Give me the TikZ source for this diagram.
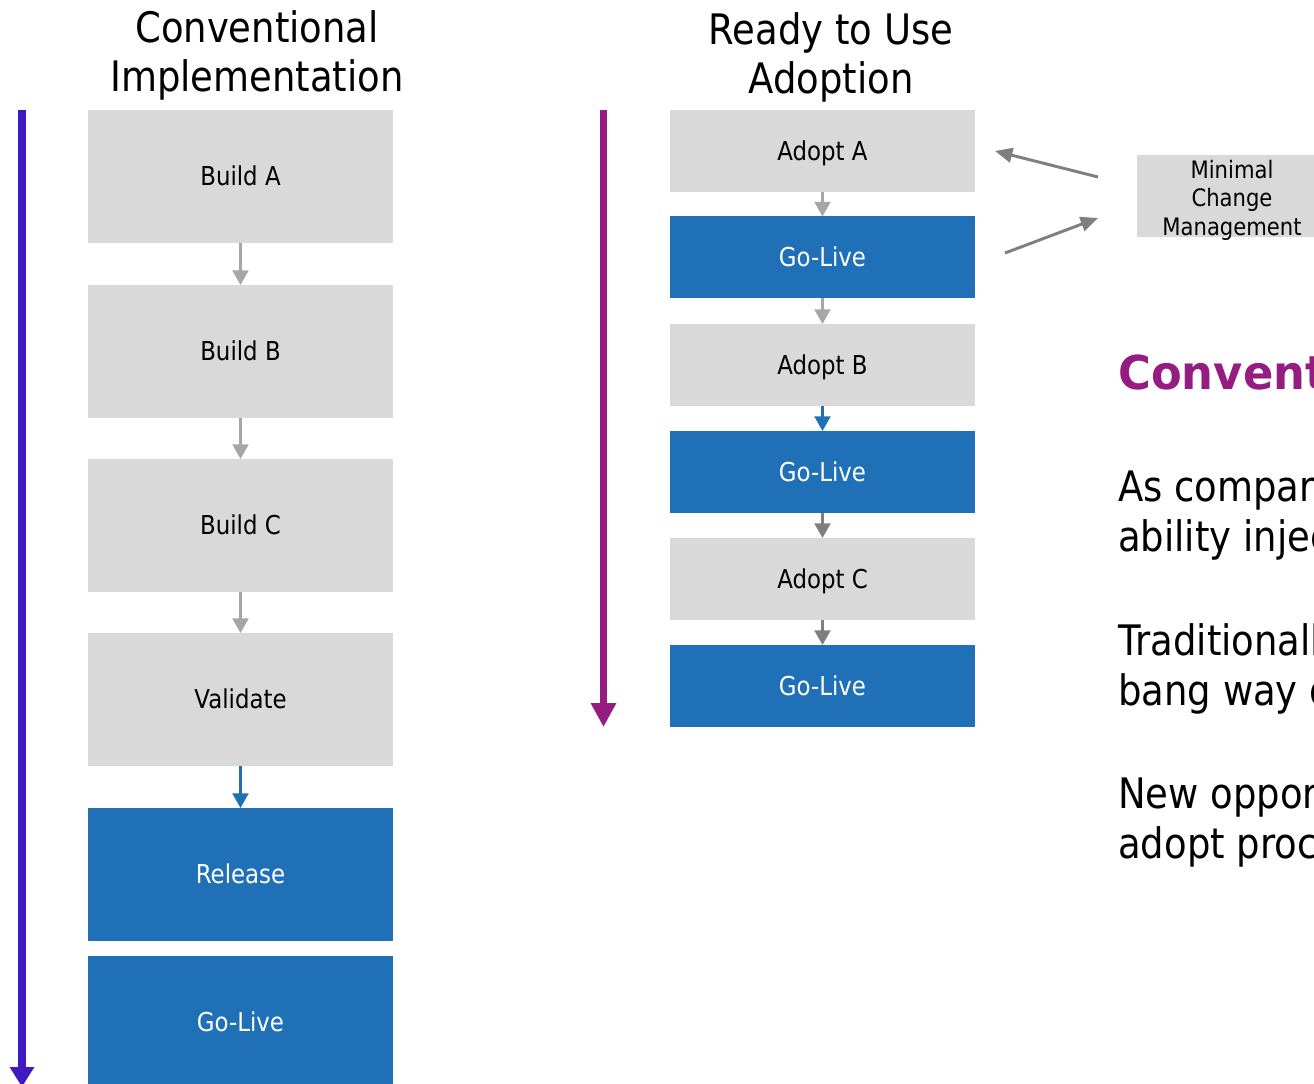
\documentclass[tikz,border=0pt]{standalone}
\usepackage{fontspec}
\setmainfont{DejaVu Sans}[FakeStretch=0.88, BoldFeatures={FakeStretch=0.96}]
\usetikzlibrary{arrows.meta}
\definecolor{boxgray}{HTML}{D9D9D9}
\definecolor{boxblue}{HTML}{1F70B7}
\definecolor{leftviolet}{HTML}{3F1AC2}
\definecolor{rightpurple}{HTML}{951C81}
\definecolor{lightarr}{HTML}{A6A6A6}
\definecolor{darkarr}{HTML}{7F7F7F}
\tikzset{
  x=0.75pt, y=-0.75pt,
  bigbox/.style={minimum width=228.75pt, minimum height=99.75pt, inner sep=0pt, outer sep=0pt,
    text height=14.2pt, text depth=0pt, font=\fontsize{19.5pt}{23pt}\selectfont},
  smallbox/.style={minimum width=228.75pt, minimum height=61.5pt, inner sep=0pt, outer sep=0pt,
    text height=14.2pt, text depth=0pt, font=\fontsize{19.5pt}{23pt}\selectfont},
  graybox/.style={fill=boxgray, text=black},
  bluebox/.style={fill=boxblue, text=white},
  flowarrow/.style={line width=1.6pt, -{Triangle[width=12pt,length=11pt]}},
  sidearrow/.style={draw=darkarr, line width=2.2pt, -{Triangle[width=11pt,length=13pt]}},
  titletext/.style={anchor=base, inner sep=0pt, font=\fontsize{31.5pt}{37.5pt}\selectfont},
  bodytext/.style={anchor=base west, inner sep=0pt, font=\fontsize{31.5pt}{37.5pt}\selectfont},
}
\begin{document}
\begin{tikzpicture}
\clip (0,0) rectangle (1314,1084);
\fill[white] (0,0) rectangle (1314,1084);

% ---------- left column ----------
\node[titletext] (t1a) at (257,43) {Conventional};
\node[titletext] (t1b) at (257,92) {Implementation};

\node[bigbox,graybox] (bA) at (240.5,176.5) {Build A};
\node[bigbox,graybox] (bB) at (240.5,351.5) {Build B};
\node[bigbox,graybox] (bC) at (240.5,525.5) {Build C};
\node[bigbox,graybox] (val) at (240.5,699.5) {Validate};
\node[bigbox,bluebox] (rel) at (240.5,874.5) {Release};
\node[bigbox,bluebox] (glL) at (240.5,1022.5) {Go-Live};

\draw[flowarrow, draw=lightarr] (bA) -- (bB);
\draw[flowarrow, draw=lightarr] (bB) -- (bC);
\draw[flowarrow, draw=lightarr] (bC) -- (val);
\draw[flowarrow, draw=boxblue] (val) -- (rel);

\coordinate (lvs) at (22,110);
\coordinate (lve) at (22,1087);
\draw[leftviolet, line width=6pt, -{Triangle[width=17.5pt,length=15pt]}] (lvs) -- (lve);

% ---------- right column ----------
\node[titletext] (t2a) at (831,45) {Ready to Use};
\node[titletext] (t2b) at (831,94) {Adoption};

\node[smallbox,graybox] (aA) at (822.5,151) {Adopt A};
\node[smallbox,bluebox] (g1) at (822.5,257.5) {Go-Live};
\node[smallbox,graybox] (aB) at (822.5,365) {Adopt B};
\node[smallbox,bluebox] (g2) at (822.5,472) {Go-Live};
\node[smallbox,graybox] (aC) at (822.5,579) {Adopt C};
\node[smallbox,bluebox] (g3) at (822.5,686) {Go-Live};

\draw[flowarrow, draw=lightarr] (aA) -- (g1);
\draw[flowarrow, draw=lightarr] (g1) -- (aB);
\draw[flowarrow, draw=boxblue] (aB) -- (g2);
\draw[flowarrow, draw=darkarr] (g2) -- (aC);
\draw[flowarrow, draw=darkarr] (aC) -- (g3);

\coordinate (rvs) at (603.5,110);
\coordinate (rve) at (603.5,727);
\draw[rightpurple, line width=5.25pt, -{Triangle[width=18pt,length=18pt]}] (rvs) -- (rve);

% ---------- minimal change management ----------
\node[fill=boxgray, minimum width=142.5pt, minimum height=61.5pt, inner sep=0pt] (mcm) at (1232,196) {};
\node[align=center, inner sep=0pt, font=\fontsize{18pt}{21.4pt}\selectfont] (mcmtext) at (1232,200)
      {Minimal\\Change\\Management};

\coordinate (m1s) at (1098,177);
\coordinate (m1e) at (995,151);
\coordinate (m2s) at (1005,253);
\coordinate (m2e) at (1098,218);
\draw[sidearrow] (m1s) -- (m1e);
\draw[sidearrow] (m2s) -- (m2e);

% ---------- right text ----------
\node[anchor=base west, inner sep=0pt, text=rightpurple,
      font=\fontsize{35pt}{40pt}\selectfont\bfseries] (head) at (1118,389) {Conventional};

\node[bodytext] (p1a) at (1118,501) {As compared};
\node[bodytext] (p1b) at (1118,551) {ability injected};
\node[bodytext] (p2a) at (1118,655) {Traditionally};
\node[bodytext] (p2b) at (1118,705) {bang way of};
\node[bodytext] (p3a) at (1118,808) {New opportunity};
\node[bodytext] (p3b) at (1118,858) {adopt process};
\end{tikzpicture}
\end{document}
